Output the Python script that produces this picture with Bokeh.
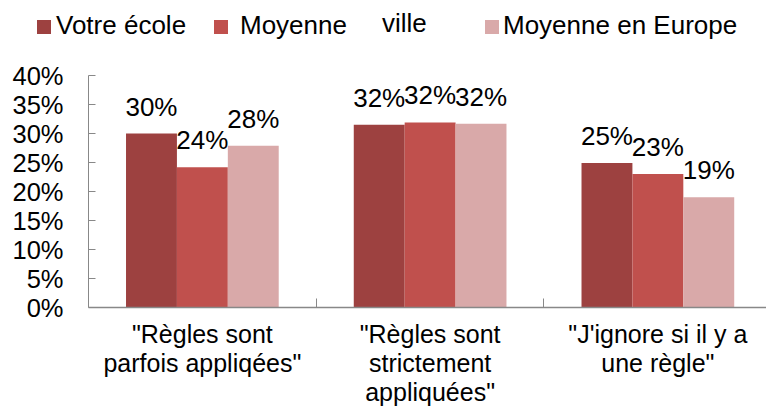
from bokeh.plotting import figure
from bokeh.layouts import column
from bokeh.models import (ColumnDataSource, Range1d, FixedTicker, LabelSet, Div,
                          PrintfTickFormatter)
from bokeh.core.properties import value
from bokeh.transform import dodge
from bokeh.embed import file_html
from bokeh.resources import INLINE

categories = ['"Règles sont\nparfois appliqées"',
              '"Règles sont\nstrictement\nappliquées"',
              '"J\'ignore si il y a\nune règle"']
series_names = ["Votre école", "Moyenne", "Moyenne en Europe"]
votre_ecole = [30.0, 31.5, 24.9]
moyenne_ville = [24.2, 31.9, 23.0]
moyenne_europe = [27.9, 31.7, 19.0]
y_ticks = [0, 5, 10, 15, 20, 25, 30, 35, 40]
colors = ["#9D4140", "#C0504D", "#D9A9A9"]

FONT = "Liberation Sans"
GRAY = "#888888"

xpos = [i + 0.5 for i in range(len(categories))]
series = [votre_ecole, moyenne_ville, moyenne_europe]

# ---- legend strip (HTML) ----
LH = 50
swatch_left = [37, 214, 485]
text_left = [56, 240, 503]
parts = []
for name, col, sx, tx in zip(series_names, colors, swatch_left, text_left):
    parts.append('<span style="position:absolute;left:%dpx;top:20px;width:14px;height:14px;'
                 'background:%s"></span>' % (sx, col))
    parts.append('<span style="position:absolute;left:%dpx;top:12px;line-height:26px;'
                 'white-space:nowrap">%s</span>' % (tx, name))
parts.append('<span style="position:absolute;left:382px;top:10px;line-height:26px;'
             'white-space:nowrap">ville</span>')
html = ('<div style="position:relative;width:766px;height:%dpx;font-family:\'Liberation Sans\';'
        'font-size:26px;color:black;">%s</div>' % (LH, "".join(parts)))
legend_div = Div(text=html, width=766, height=LH, margin=0)

# ---- main chart ----
p = figure(width=766, height=412 - LH, x_range=Range1d(0, 2.977), y_range=Range1d(0, 40),
           output_backend="svg", toolbar_location=None,
           min_border_left=88, min_border_right=0, min_border_top=75 - LH, min_border_bottom=105)
p.outline_line_color = None
p.xgrid.visible = False
p.ygrid.visible = False

bw = 0.2235
offsets = [-bw, 0, bw]
for vals, off, col in zip(series, offsets, colors):
    src = ColumnDataSource(dict(x=xpos, top=vals, lab=["%d%%" % round(v) for v in vals]))
    p.vbar(x=dodge("x", off, range=p.x_range), top="top", width=bw, source=src,
           fill_color=col, line_color=None)
    p.add_layout(LabelSet(x=dodge("x", off, range=p.x_range), y="top", text="lab", source=src,
                          text_align="center", text_baseline="alphabetic", y_offset=18,
                          text_font=value(FONT), text_font_size=value("26px"),
                          text_color="black"))

ya = p.yaxis[0]
ya.ticker = FixedTicker(ticks=y_ticks)
ya.formatter = PrintfTickFormatter(format="%d%%")
ya.major_tick_in = 7
ya.major_tick_out = 0
ya.minor_tick_line_color = None
ya.axis_line_color = GRAY
ya.major_tick_line_color = GRAY
ya.major_label_standoff = 25
ya.major_label_text_font = FONT
ya.major_label_text_font_size = "25.5px"
ya.major_label_text_color = "black"

xa = p.xaxis[0]
xa.ticker = FixedTicker(ticks=xpos, minor_ticks=[1, 2])
xa.major_label_overrides = {x: c for x, c in zip(xpos, categories)}
xa.major_tick_line_color = None
xa.minor_tick_in = 9
xa.minor_tick_out = 0
xa.minor_tick_line_color = GRAY
xa.axis_line_color = GRAY
xa.axis_line_width = 1.5
xa.major_label_standoff = 6
xa.major_label_text_line_height = 1.05
xa.major_label_text_font = FONT
xa.major_label_text_font_size = "25px"
xa.major_label_text_color = "black"

layout = column(legend_div, p, spacing=0)
open("out.html", "w").write(file_html(layout, INLINE))
